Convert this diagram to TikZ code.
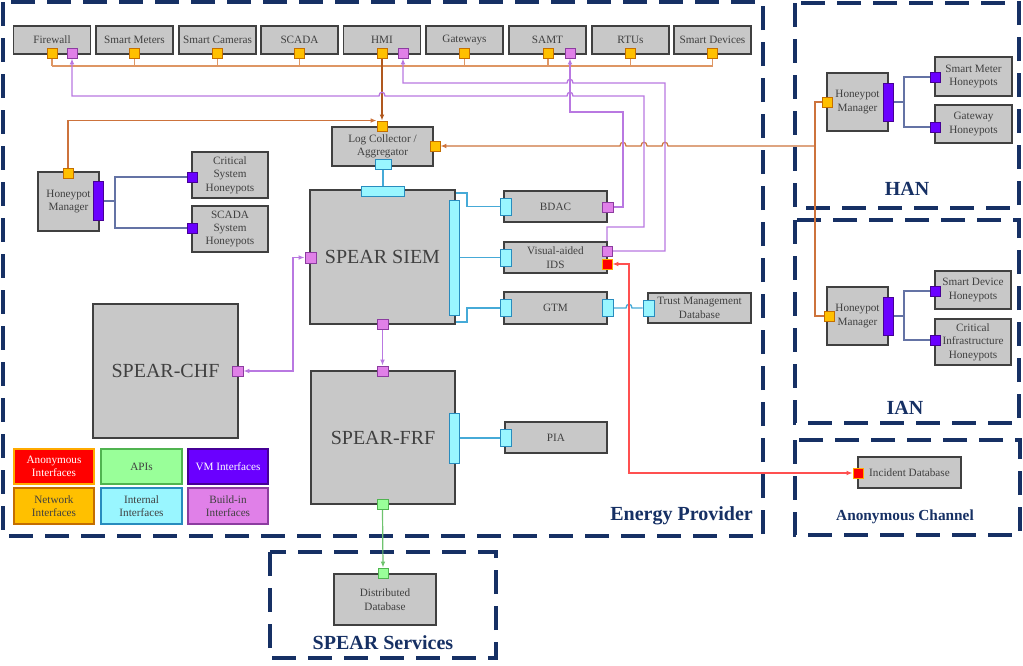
\documentclass[tikz,border=0pt]{standalone}
\usepackage{fontspec}
\setmainfont{Liberation Serif}
\usetikzlibrary{arrows.meta,calc}
\pgfdeclarelayer{bg}
\pgfsetlayers{bg,main}
\definecolor{navy}{RGB}{22,48,100}
\definecolor{boxfill}{RGB}{200,200,200}
\definecolor{boxdraw}{RGB}{64,64,64}
\definecolor{txt}{RGB}{64,64,64}
\definecolor{netF}{RGB}{255,192,0}
\definecolor{netD}{RGB}{196,110,0}
\definecolor{bldF}{RGB}{224,128,232}
\definecolor{bldD}{RGB}{140,60,160}
\definecolor{intF}{RGB}{153,246,255}
\definecolor{intD}{RGB}{40,140,190}
\definecolor{vmF}{RGB}{106,0,255}
\definecolor{vmD}{RGB}{70,0,150}
\definecolor{anoF}{RGB}{255,0,0}
\definecolor{anoD}{RGB}{255,170,0}
\definecolor{apiF}{RGB}{153,255,153}
\definecolor{apiD}{RGB}{80,180,80}
\definecolor{busC}{RGB}{222,150,100}
\definecolor{brownC}{RGB}{176,88,30}
\definecolor{orC}{RGB}{205,115,60}
\definecolor{purC}{RGB}{185,120,225}
\definecolor{cyC}{RGB}{70,170,215}
\definecolor{vmC}{RGB}{100,115,165}
\definecolor{redC}{RGB}{255,80,80}
\definecolor{grC}{RGB}{110,195,110}
\tikzset{
  >={Latex[length=4.5pt,width=3.6pt]},
  sz/.style 2 args={minimum width=#1*0.75pt, minimum height=#2*0.75pt},
  box/.style={draw=boxdraw, fill=boxfill, line width=1pt, inner sep=0pt, align=center, text=txt, font=\fontsize{8.4}{10.1}\selectfont},
  bigbox/.style={box, font=\fontsize{15}{18}\selectfont},
  pbase/.style={draw, rectangle, inner sep=0pt, line width=0.7pt},
  pnet/.style={pbase, fill=netF, draw=netD},
  pbld/.style={pbase, fill=bldF, draw=bldD},
  pint/.style={pbase, fill=intF, draw=intD},
  pvm/.style={pbase, fill=vmF, draw=vmD},
  pano/.style={pbase, fill=anoF, draw=anoD},
  papi/.style={pbase, fill=apiF, draw=apiD},
  dframe/.style={draw=navy, line width=2.3pt, dash pattern=on 18pt off 9pt},
  ttl/.style={text=navy, inner sep=0pt, font=\bfseries\fontsize{15}{18}\selectfont},
  busl/.style={draw=busC, line width=0.8pt},
  brownl/.style={draw=brownC, line width=1.4pt},
  orl/.style={draw=orC, line width=0.9pt},
  purl/.style={draw=purC, line width=1pt},
  cyl/.style={draw=cyC, line width=1pt},
  vml/.style={draw=vmC, line width=0.9pt},
  redl/.style={draw=redC, line width=0.9pt},
  grl/.style={draw=grC, line width=0.9pt},
}
\begin{document}
\begin{tikzpicture}[x=0.75pt,y=-0.75pt]
\useasboundingbox (0,0) rectangle (1023,665);

% ---------- top row ----------
\node[box,sz={77}{28}] (fw) at (52,40) {Firewall};
\node[box,sz={77}{28}] (sm) at (134.5,40) {Smart Meters};
\node[box,sz={77}{28}] (sc) at (217.5,40) {Smart Cameras};
\node[box,sz={77}{28}] (scada) at (299.5,40) {SCADA};
\node[box,sz={77}{28}] (hmi) at (382,40) {HMI};
\node[box,sz={77}{28}] (gw) at (464.5,40) {Gateways};
\node[box,sz={77}{28}] (samt) at (547.5,40) {SAMT};
\node[box,sz={77}{28}] (rtu) at (630.5,40) {RTUs};
\node[box,sz={77}{28}] (sd) at (712.5,40) {Smart Devices};

\node[pnet,sz={10}{10}] (fwN) at (52,53) {};
\node[pbld,sz={10}{10}] (fwP) at (72,53) {};
\node[pnet,sz={10}{10}] (smN) at (134.5,53) {};
\node[pnet,sz={10}{10}] (scN) at (217.5,53) {};
\node[pnet,sz={10}{10}] (scadaN) at (299.5,53) {};
\node[pnet,sz={10}{10}] (hmiN) at (382,53) {};
\node[pbld,sz={10}{10}] (hmiP) at (403,53) {};
\node[pnet,sz={10}{10}] (gwN) at (464.5,53) {};
\node[pnet,sz={10}{10}] (samtN) at (548,53) {};
\node[pbld,sz={10}{10}] (samtP) at (570,53) {};
\node[pnet,sz={10}{10}] (rtuN) at (630.5,53) {};
\node[pnet,sz={10}{10}] (sdN) at (712.5,53) {};

% ---------- log collector ----------
\node[box,sz={101}{39}] (lc) at (382.5,146.5) {Log Collector /\\Aggregator};
\node[pnet,sz={10}{10}] (lcT) at (382,126) {};
\node[pnet,sz={10}{10}] (lcR) at (435,146) {};
\node[pint,sz={16}{10}] (lcB) at (383,164) {};

% ---------- left honeypots ----------
\node[box,sz={61}{59}] (hmL) at (68.5,201.5) {Honeypot\\Manager};
\node[pnet,sz={10}{10}] (hmLN) at (68,173) {};
\node[pvm,sz={10}{39}] (hmLV) at (98,201) {};
\node[box,sz={76}{46}] (cs) at (230,175) {Critical\\System\\Honeypots};
\node[pvm,sz={10}{10}] (csV) at (192,177) {};
\node[box,sz={76}{46}] (scs) at (230,229) {SCADA\\System\\Honeypots};
\node[pvm,sz={10}{10}] (scV) at (192,228) {};

% ---------- SIEM ----------
\node[bigbox,sz={145}{134}] (siem) at (382.5,257) {SPEAR SIEM};
\node[pint,sz={43}{10}] (siemT) at (383,191) {};
\node[pint,sz={10}{115}] (siemR) at (454,257.5) {};
\node[pbld,sz={11}{11}] (siemL) at (310.5,257.5) {};
\node[pbld,sz={11}{10}] (siemB) at (382.5,324) {};

\node[box,sz={103}{31}] (bdac) at (555.5,206.5) {BDAC};
\node[pint,sz={11}{17}] (bdacC) at (505.5,206.5) {};
\node[pbld,sz={11}{10}] (bdacP) at (607.5,207) {};

\node[box,sz={103}{31}] (ids) at (555.5,257.5) {Visual-aided\\IDS};
\node[pint,sz={11}{17}] (idsC) at (505.5,257.5) {};
\node[pbld,sz={10}{10}] (idsP) at (607,251) {};
\node[pano,sz={10}{10}] (idsR) at (607,264) {};

\node[box,sz={103}{32}] (gtm) at (555.5,308) {GTM};
\node[pint,sz={11}{17}] (gtmC) at (505.5,308) {};
\node[pint,sz={11}{17}] (gtmR) at (607.5,308) {};

\node[box,sz={103}{30}] (tmd) at (699.5,308) {Trust Management\\Database};
\node[pint,sz={11}{16}] (tmdC) at (648.5,308) {};

% ---------- CHF / FRF ----------
\node[bigbox,sz={145}{134}] (chf) at (165.5,371) {SPEAR-CHF};
\node[pbld,sz={11}{10}] (chfP) at (237.5,371) {};

\node[bigbox,sz={144}{133}] (frf) at (383,437.5) {SPEAR-FRF};
\node[pbld,sz={11}{10}] (frfT) at (382.5,371) {};
\node[papi,sz={11}{10}] (frfG) at (382.5,504) {};
\node[pint,sz={10}{50}] (frfR) at (454,438) {};

\node[box,sz={102}{31}] (pia) at (556,437.5) {PIA};
\node[pint,sz={11}{17}] (piaC) at (505.5,438) {};

% ---------- distributed database ----------
\node[box,sz={102}{51}] (dd) at (385,599.5) {Distributed\\Database};
\node[papi,sz={10}{10}] (ddG) at (383,573) {};

% ---------- HAN ----------
\node[box,sz={61}{58}] (hanM) at (857.5,102) {Honeypot\\Manager};
\node[pnet,sz={10}{10}] (hanN) at (827,102) {};
\node[pvm,sz={10}{38}] (hanV) at (888,102) {};
\node[box,sz={77}{39}] (smh) at (973.5,76.5) {Smart Meter\\Honeypots};
\node[pvm,sz={10}{10}] (smhV) at (935,77) {};
\node[box,sz={77}{38}] (gwh) at (973.5,124) {Gateway\\Honeypots};
\node[pvm,sz={10}{10}] (gwhV) at (935,127) {};

% ---------- IAN ----------
\node[box,sz={61}{58}] (ianM) at (857.5,316) {Honeypot\\Manager};
\node[pnet,sz={10}{10}] (ianN) at (829,316) {};
\node[pvm,sz={10}{38}] (ianV) at (888,316) {};
\node[box,sz={76}{38}] (sdh) at (973,290) {Smart Device\\Honeypots};
\node[pvm,sz={10}{10}] (sdhV) at (935,291) {};
\node[box,sz={76}{46}] (cih) at (973,342) {Critical\\Infrastructure\\Honeypots};
\node[pvm,sz={10}{10}] (cihV) at (935,340) {};

% ---------- incident database ----------
\node[box,sz={103}{31}] (idb) at (909.5,472.5) {Incident Database};
\node[pano,sz={10}{10}] (idbR) at (858,473) {};

% ---------- legend ----------
\node[box,fill=anoF,draw=anoD,text=white,sz={80}{35}] (lgA) at (54,466.5) {Anonymous\\Interfaces};
\node[box,fill=apiF,draw=apiD,sz={81}{35}] (lgB) at (141.5,466.5) {APIs};
\node[box,fill=vmF,draw=vmD,text=white,sz={80}{35}] (lgC) at (228,466.5) {VM Interfaces};
\node[box,fill=netF,draw=netD,sz={80}{36}] (lgD) at (54,506) {Network\\Interfaces};
\node[box,fill=intF,draw=intD,sz={81}{36}] (lgE) at (141.5,506) {Internal\\Interfaces};
\node[box,fill=bldF,draw=bldD,sz={80}{36}] (lgF) at (228,506) {Build-in\\Interfaces};

% ---------- frame titles ----------
\node[ttl,anchor=east] (epL) at (753,516) {Energy Provider};
\node[ttl] (hanL) at (907,189) {HAN};
\node[ttl] (ianL) at (905,408) {IAN};
\node[ttl,font=\bfseries\fontsize{11.5}{14}\selectfont] (acL) at (905,517) {Anonymous Channel};
\node[ttl] (ssL) at (383,643) {SPEAR Services};

\begin{pgfonlayer}{bg}
% frames
\draw[dframe] (3,2) rectangle (763,536);
\draw[dframe] (795,3) rectangle (1019,208);
\draw[dframe] (795,220) rectangle (1019,423);
\draw[dframe] (795,440) rectangle (1020,535);
\draw[dframe] (270,552) rectangle (496,658);

% network bus
\coordinate (busY) at (0,66);
\draw[busl] (fwN.south |- busY) -- (sdN.south |- busY);
\foreach \p in {fwN,smN,scN,scadaN,hmiN,gwN,samtN,rtuN,sdN}
  \draw[busl] (\p.south) -- (\p.south |- busY);

% to log collector
\draw[brownl,->] (hmiN.south) -- (lcT.north);
\draw[orl,->] (hmLN.north) |- (lcT.north west);
\coordinate (jn) at (815,146);
\draw[orl] (hanN.west) -| (jn);
\draw[orl] (ianN.west) -| (jn);
\draw[orl,->] (jn) -- (668,146) .. controls +(0,-5) and +(0,-5) .. (662,146)
  -- (647,146) .. controls +(0,-5) and +(0,-5) .. (641,146)
  -- (626,146) .. controls +(0,-5) and +(0,-5) .. (620,146) -- (lcR.east);

% build-in interfaces
\draw[purl,<-] (hmiP.south) -- (403,83) -- (567,83) .. controls +(0,-5) and +(0,-5) .. (573,83)
  -- (665,83) -- (665,251) -- (idsP.east);
\draw[purl,<-] (fwP.south) -- (72,96) -- (379,96) .. controls +(0,-5) and +(0,-5) .. (385,96)
  -- (567,96) .. controls +(0,-5) and +(0,-5) .. (573,96)
  -- (644,96) -- (644,227) -- (607,227) -- (idsP.north);
\draw[purl,<-] (samtP.south) -- (570,112) -- (623,112) -- (623,207) -- (bdacP.east);
\draw[purl,<->] (chfP.east) -- (293,371) |- (siemL.west);
\draw[purl,->] (siemB.south) -- (frfT.north);

% internal interfaces
\draw[cyl] (lcB.south) -- (siemT.north);
\coordinate (sb1) at (456,193);
\coordinate (sb2) at (456,322);
\draw[cyl] (sb1) -- (467,193) |- (bdacC.west);
\draw[cyl] (siemR.east |- idsC.west) -- (idsC.west);
\draw[cyl] (sb2) -- (467,322) |- (gtmC.west);
\draw[cyl] (gtmR.east) -- (626,308) .. controls +(0,-5) and +(0,-5) .. (632,308) -- (tmdC.west);
\draw[cyl] (frfR.east |- piaC.west) -- (piaC.west);

% VM interfaces
\draw[vml] (hmLV.east) -- (115,201) coordinate (v1);
\draw[vml] (csV.west) -| (v1);
\draw[vml] (scV.west) -| (v1);
\draw[vml] (hanV.east) -- (904,102) coordinate (v2);
\draw[vml] (smhV.west) -| (v2);
\draw[vml] (gwhV.west) -| (v2);
\draw[vml] (ianV.east) -- (904,316) coordinate (v3);
\draw[vml] (sdhV.west) -| (v3);
\draw[vml] (cihV.west) -| (v3);

% anonymous
\draw[redl,<->] (idsR.east) -- (629,264) |- (idbR.west);
% API
\draw[grl,->] (frfG.south) -- (ddG.north);
\end{pgfonlayer}
\end{tikzpicture}
\end{document}
